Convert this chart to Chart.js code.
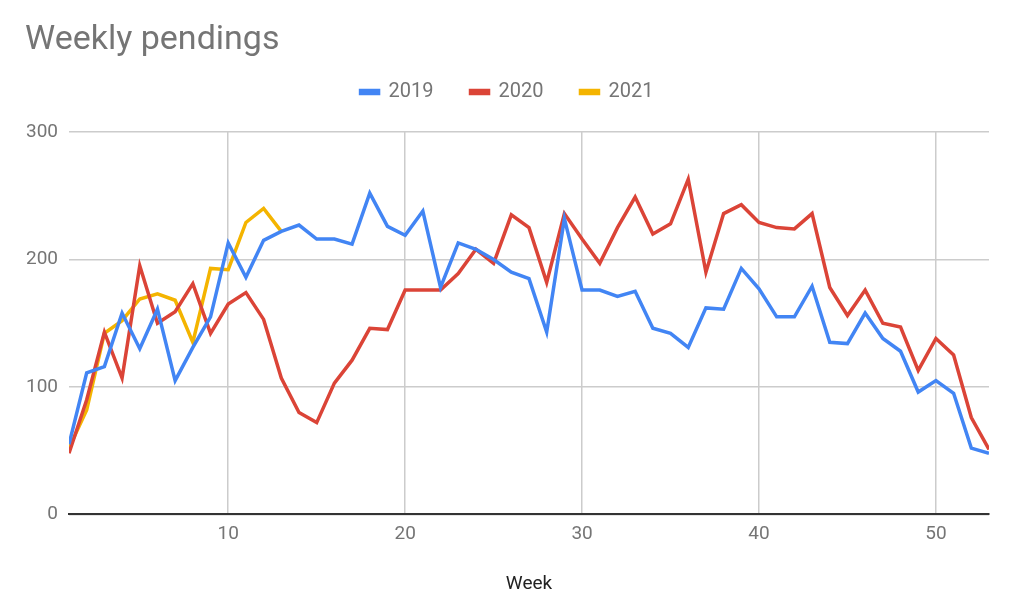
<!DOCTYPE html>
<html>
<head>
<meta charset="utf-8">
<script src="https://cdn.jsdelivr.net/npm/chart.js@4.4.1/dist/chart.umd.min.js"></script>
<style>
  html, body { margin: 0; padding: 0; background: #fff; }
  #wrap { width: 1024px; height: 606px; }
</style>
</head>
<body>
<div id="wrap"><canvas id="pendingsChart"></canvas></div>
<script>
var weeks = [1, 2, 3, 4, 5, 6, 7, 8, 9, 10, 11, 12, 13, 14, 15, 16, 17, 18, 19, 20,
    21, 22, 23, 24, 25, 26, 27, 28, 29, 30, 31, 32, 33, 34, 35, 36, 37, 38, 39, 40,
    41, 42, 43, 44, 45, 46, 47, 48, 49, 50, 51, 52, 53];
var pend2019 = [55, 111, 116, 158, 130, 161, 105, 131, 155, 213, 186, 215, 222, 227, 216, 216, 212, 252, 226, 219,
    238, 178, 213, 208, 200, 190, 185, 143, 232, 176, 176, 171, 175, 146, 142, 131, 162, 161, 193, 177,
    155, 155, 179, 135, 134, 158, 138, 128, 96, 105, 95, 52, 48];
var pend2020 = [48, 90, 143, 107, 195, 150, 159, 181, 142, 165, 174, 153, 107, 80, 72, 103, 121, 146, 145, 176,
    176, 176, 189, 208, 197, 235, 225, 182, 236, 216, 197, 225, 249, 220, 228, 263, 190, 236, 243, 229,
    225, 224, 236, 178, 156, 176, 150, 147, 113, 138, 125, 76, 51];
var pend2021 = [52, 82, 142, 152, 169, 173, 168, 135, 193, 192, 229, 240, 222];
var xTicks = [10, 20, 30, 40, 50];
var yTicks = [0, 100, 200, 300];

function points(values) {
    return values.map(function (v, i) { return { x: weeks[i], y: v }; });
}

// leaves some room between the legend and the plot
var legendSpacer = {
    id: 'legendSpacer',
    beforeLayout: function (chart) {
        var legend = chart.legend;
        if (legend && !legend._spaced) {
            legend._spaced = true;
            var fit = legend.fit;
            legend.fit = function () { fit.call(this); this.height += 20; };
        }
    }
};

var grey = '#757575';
var ctx = document.getElementById('pendingsChart').getContext('2d');
var pendingsChart = new Chart(ctx, {
    type: 'line',
    data: {
        datasets: [
            { label: '2019', data: points(pend2019), borderColor: '#4285F4', backgroundColor: '#4285F4' },
            { label: '2020', data: points(pend2020), borderColor: '#DB4437', backgroundColor: '#DB4437' },
            { label: '2021', data: points(pend2021), borderColor: '#F4B400', backgroundColor: '#F4B400' }
        ]
    },
    plugins: [legendSpacer],
    options: {
        responsive: true,
        maintainAspectRatio: false,
        animation: false,
        layout: { padding: { left: 25, right: 35, top: 0, bottom: 10 } },
        elements: {
            line: { borderWidth: 3.5, tension: 0 },
            point: { radius: 0 }
        },
        plugins: {
            title: {
                display: true,
                text: 'Weekly pendings',
                align: 'start',
                color: grey,
                font: { family: 'Roboto', size: 34, weight: 'normal', lineHeight: '10px' },
                padding: { top: 35, bottom: 0 }
            },
            legend: {
                position: 'top',
                labels: {
                    color: grey,
                    font: { family: 'Roboto', size: 20 },
                    boxWidth: 18,
                    boxHeight: 3,
                    padding: 37
                }
            },
            tooltip: { enabled: false }
        },
        scales: {
            x: {
                type: 'linear',
                min: 1,
                max: 53,
                afterBuildTicks: function (scale) {
                    scale.ticks = xTicks.map(function (v) { return { value: v }; });
                },
                grid: { color: '#cccccc', lineWidth: 1.5, drawTicks: false },
                border: { color: '#333333', width: 2 },
                ticks: { color: grey, font: { family: 'Roboto', size: 19 }, padding: 8, maxRotation: 0 },
                title: {
                    display: true,
                    text: 'Week',
                    color: '#222222',
                    font: { family: 'Roboto', size: 19 },
                    padding: { top: 20, bottom: 0 }
                }
            },
            y: {
                min: 0,
                max: 300,
                afterBuildTicks: function (scale) {
                    scale.ticks = yTicks.map(function (v) { return { value: v }; });
                },
                afterFit: function (scale) { scale.width = 44; },
                grid: { color: '#cccccc', lineWidth: 1.5, drawTicks: false },
                border: { display: false },
                ticks: { color: grey, font: { family: 'Roboto', size: 19 }, padding: 11 }
            }
        }
    }
});
</script>
</body>
</html>
